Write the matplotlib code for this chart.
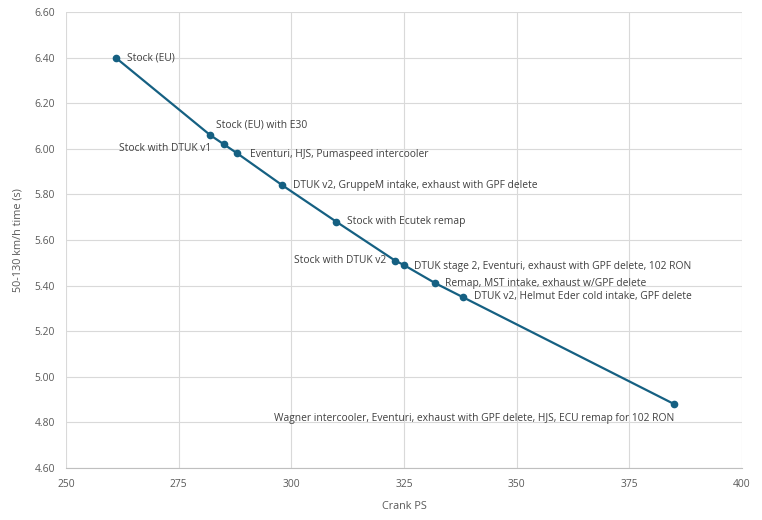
#!/usr/bin/env python
"""Scatter-line of 50-130 km/h times against crank power for various mods."""
import matplotlib
matplotlib.use('Agg')
import matplotlib.pyplot as plt
from matplotlib.ticker import FormatStrFormatter, MultipleLocator


crank_ps = [261, 282, 285, 288, 298, 310, 323, 325, 332, 338, 385]
times = [6.40, 6.06, 6.02, 5.98, 5.84, 5.68, 5.51, 5.49, 5.41, 5.35, 4.88]
labels = [
    'Stock (EU)',
    'Stock (EU) with E30',
    'Stock with DTUK v1',
    'Eventuri, HJS, Pumaspeed intercooler',
    'DTUK v2, GruppeM intake, exhaust with GPF delete',
    'Stock with Ecutek remap',
    'Stock with DTUK v2',
    'DTUK stage 2, Eventuri, exhaust with GPF delete, 102 RON',
    'Remap, MST intake, exhaust w/GPF delete',
    'DTUK v2, Helmut Eder cold intake, GPF delete',
    'Wagner intercooler, Eventuri, exhaust with GPF delete, HJS, ECU remap for 102 RON',
]

# Label placement: (dx, dy) in points, horizontal alignment.
placement = [
    (8, 0, 'left'),
    (4, 7, 'left'),
    (-9, -3, 'right'),
    (9, -1, 'left'),
    (8, 0, 'left'),
    (8, 0, 'left'),
    (-6, 0, 'right'),
    (7, -1, 'left'),
    (7, 0, 'left'),
    (8, 0, 'left'),
    (0, -10, 'right'),
]

plt.rcParams['font.family'] = ['Open Sans', 'DejaVu Sans']
line_color = '#156082'
text_color = '#595959'

fig = plt.figure(figsize=(7.62, 5.20), dpi=100)
ax = fig.add_axes([0.0866, 0.100, 0.887, 0.877])

ax.plot(crank_ps, times, '-o', color=line_color, lw=1.6, markersize=4.5, zorder=3)

for x, y, text, (dx, dy, ha) in zip(crank_ps, times, labels, placement):
    ax.annotate(text, (x, y), xytext=(dx, dy), textcoords='offset points',
                ha=ha, va='center', fontsize=7.4, color='#404040')

ax.set_xlim(250, 400)
ax.set_ylim(4.6, 6.6)
ax.xaxis.set_major_locator(MultipleLocator(25))
ax.yaxis.set_major_locator(MultipleLocator(0.2))
ax.yaxis.set_major_formatter(FormatStrFormatter('%.2f'))
ax.grid(True, color='#D9D9D9', lw=0.8)
ax.set_axisbelow(True)
for side in ['left', 'right', 'top']:
    ax.spines[side].set_visible(False)
ax.spines['bottom'].set_color('#BFBFBF')
ax.tick_params(length=0, labelsize=7.4, colors=text_color, pad=8)
ax.set_xlabel('Crank PS', fontsize=7.8, color=text_color, labelpad=8)
ax.set_ylabel('50-130 km/h time (s)', fontsize=7.8, color=text_color, labelpad=8)

plt.savefig('out.png', dpi=100)
